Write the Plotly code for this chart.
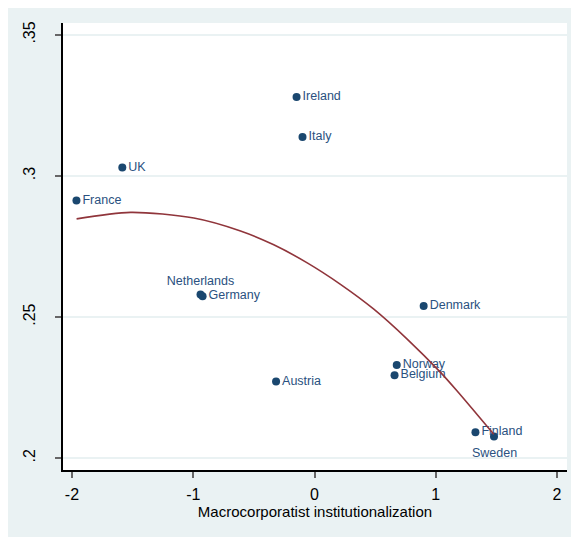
import plotly.graph_objects as go

# ---- data ----
countries = ["Ireland", "Italy", "UK", "France", "Netherlands", "Germany",
             "Austria", "Denmark", "Norway", "Belgium", "Finland", "Sweden"]
macrocorp = [-0.148, -0.099, -1.585, -1.963, -0.94, -0.923,
             -0.317, 0.90, 0.678, 0.660, 1.327, 1.480]
outcome = [0.3280, 0.3138, 0.3030, 0.2913, 0.2580, 0.2574,
           0.2272, 0.2539, 0.2330, 0.2294, 0.2092, 0.2077]

# quadratic-fit curve
fit_x = [-1.962, -1.517, -0.995, -0.610, -0.336, -0.060, 0.214,
         0.489, 0.764, 1.039, 1.176, 1.313, 1.478]
fit_y = [0.2848, 0.2871, 0.2851, 0.2805, 0.2756, 0.2692, 0.2616,
         0.2528, 0.2422, 0.2304, 0.2238, 0.2169, 0.2085]

x_ticks = [-2, -1, 0, 1, 2]
x_tick_text = ["-2", "-1", "0", "1", "2"]
y_ticks = [0.2, 0.25, 0.3, 0.35]
y_tick_text = [".2", ".25", ".3", ".35"]
x_title = "Macrocorporatist institutionalization"

# ---- styling ----
NAVY = "#1A476F"
LABEL = "#2A5180"
MAROON = "#90353B"
BG = "#EAF2F3"
FONT = "Liberation Sans, Arial, sans-serif"

label_above = {"Netherlands"}
label_below = {"Sweden"}
text_pos = ["top center" if c in label_above else "middle right"
            for c in countries]
point_text = ["" if c in label_below else c for c in countries]

fig = go.Figure()
fig.add_trace(go.Scatter(
    x=macrocorp, y=outcome, mode="markers+text", text=point_text,
    textposition=text_pos,
    textfont=dict(family=FONT, size=12.5, color=LABEL),
    marker=dict(color=NAVY, size=8), showlegend=False, cliponaxis=False))
fig.add_trace(go.Scatter(
    x=fit_x, y=fit_y, mode="lines",
    line=dict(color=MAROON, width=1.6, shape="spline", smoothing=0.8),
    showlegend=False))

# labels placed below their markers (6 o'clock)
for c, xv, yv in zip(countries, macrocorp, outcome):
    if c in label_below:
        fig.add_annotation(x=xv, y=yv, text=c, showarrow=False,
                           yanchor="top", yshift=-8,
                           font=dict(family=FONT, size=12.5, color=LABEL))

# outer panel background and white plot region
fig.add_shape(type="rect", xref="paper", yref="paper",
              x0=-0.12, x1=1.1, y0=-0.150, y1=1.05,
              fillcolor=BG, line=dict(width=0), layer="below")
fig.add_shape(type="rect", xref="paper", yref="paper",
              x0=0, x1=1, y0=0, y1=1,
              fillcolor="white", line=dict(width=0), layer="below")

# the page body adds an 8px offset, so the figure is sized to fit after it
fig.update_layout(
    width=571, height=534,
    margin=dict(l=55, r=12, t=15, b=72),
    paper_bgcolor="white", plot_bgcolor="white",
    font=dict(family=FONT, size=16, color="black"),
    xaxis=dict(range=[-2.074, 2.082], tickvals=x_ticks, ticktext=x_tick_text,
               showgrid=False, zeroline=False, showline=True,
               linecolor="black", linewidth=1.5, ticks="outside",
               ticklen=6, tickcolor="#666666", tickwidth=1.5,
               ticklabelstandoff=3,
               tickfont=dict(family=FONT, size=16), automargin=False,
               title=dict(text=x_title, font=dict(family=FONT, size=15),
                          standoff=0)),
    yaxis=dict(range=[0.1958, 0.3542], tickvals=y_ticks, ticktext=y_tick_text,
               showgrid=True, gridcolor=BG, gridwidth=1.5,
               zeroline=False, showline=True, linecolor="black",
               linewidth=1.5, ticks="outside", ticklen=6,
               tickcolor="#666666", tickwidth=1.5, tickangle=-90,
               ticklabelstandoff=14, automargin=False,
               tickfont=dict(family=FONT, size=16)),
)

fig.write_html("out.html")
